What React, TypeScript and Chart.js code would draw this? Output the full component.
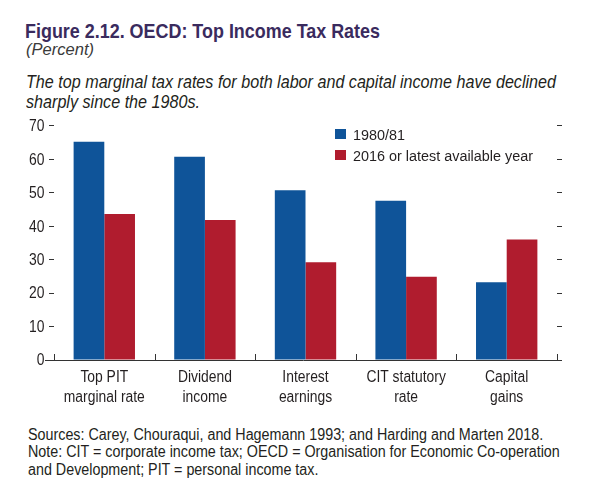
import React, { useEffect, useRef } from "react";
import { Chart, registerables } from "chart.js";

Chart.register(...registerables);

const categories: string[][] = [
  ["Top PIT", "marginal rate"],
  ["Dividend", "income"],
  ["Interest", "earnings"],
  ["CIT statutory", "rate"],
  ["Capital", "gains"],
];
const series1980Label = "1980/81";
const series2016Label = "2016 or latest available year";
const values1980: number[] = [65.2, 60.7, 50.7, 47.6, 23.2];
const values2016: number[] = [43.6, 41.8, 29.2, 24.9, 36.0];
const yTicks: number[] = [0, 10, 20, 30, 40, 50, 60, 70];

const titleText = "Figure 2.12. OECD: Top Income Tax Rates";
const unitText = "(Percent)";
const descLines: string[] = [
  "The top marginal tax rates for both labor and capital income have declined",
  "sharply since the 1980s.",
];
const noteLines: string[] = [
  "Sources: Carey, Chouraqui, and Hagemann 1993; and Harding and Marten 2018.",
  "Note: CIT = corporate income tax; OECD = Organisation for Economic Co-operation",
  "and Development; PIT = personal income tax.",
];

const FAM = "'Liberation Sans', Arial, sans-serif";
const BLUE = "#0f5499";
const RED = "#b01c2e";
const INK = "#231f20";
const TITLE_INK = "#3a2b5e";

let measureCtx: CanvasRenderingContext2D | null = null;
function measure(text: string, font: string): number {
  if (!measureCtx) measureCtx = document.createElement("canvas").getContext("2d");
  measureCtx!.font = font;
  return measureCtx!.measureText(text).width;
}
function fitScale(text: string, font: string, target: number): number {
  return target / measure(text, font);
}

function drawScaled(ctx: CanvasRenderingContext2D, text: string, x: number, y: number, sx: number, align: CanvasTextAlign) {
  ctx.save();
  ctx.translate(x, y);
  ctx.scale(sx, 1);
  ctx.textAlign = align;
  ctx.fillText(text, 0, 0);
  ctx.restore();
}

const CAT_FONT = `16px ${FAM}`;
const LEG_FONT = `15.5px ${FAM}`;

const extrasPlugin = {
  id: "extras",
  afterDraw(chart: any) {
    const ctx: CanvasRenderingContext2D = chart.ctx;
    const xs = chart.scales.x;
    const ys = chart.scales.y;
    const area = chart.chartArea;
    const catScale = fitScale("marginal rate", CAT_FONT, 81);
    ctx.save();
    ctx.strokeStyle = "#333";
    ctx.lineWidth = 1;
    const by = Math.round(area.bottom) + 0.5;
    // axis line
    ctx.beginPath();
    ctx.moveTo(area.left - 9, by);
    ctx.lineTo(area.right + 5, by);
    ctx.stroke();
    // category boundary ticks
    const n = chart.data.labels.length;
    for (let i = 0; i <= n; i++) {
      const x = Math.round(xs.getPixelForValue(i - 0.5)) + 0.5;
      ctx.beginPath();
      ctx.moveTo(x, area.bottom);
      ctx.lineTo(x, area.bottom - 6);
      ctx.stroke();
    }
    // category labels
    ctx.fillStyle = INK;
    ctx.font = CAT_FONT;
    ctx.textBaseline = "alphabetic";
    chart.data.labels.forEach((lab: string[], i: number) => {
      const x = xs.getPixelForValue(i);
      lab.forEach((line, j) => {
        drawScaled(ctx, line, x, area.bottom + 21.5 + j * 20, catScale, "center");
      });
    });
    // y tick labels
    ctx.textBaseline = "middle";
    ys.ticks.forEach((t: any) => {
      const y = ys.getPixelForValue(t.value);
      drawScaled(ctx, String(t.value), area.left - 9.5, y + 1, catScale, "right");
    });
    // legend
    const legScale = fitScale(series2016Label, LEG_FONT, 180);
    const lx = 335;
    const topOffset = chart.canvas.offsetTop || 110;
    ctx.font = LEG_FONT;
    ctx.textBaseline = "alphabetic";
    chart.data.datasets.forEach((ds: any, i: number) => {
      const y0 = 129 + i * 21 - topOffset;
      ctx.fillStyle = ds.backgroundColor;
      ctx.fillRect(lx, y0, 11, 10);
      ctx.fillStyle = INK;
      drawScaled(ctx, ds.label, lx + 18, y0 + 11, legScale, "left");
    });
    ctx.restore();
  },
};

function ChartView() {
  const ref = useRef<HTMLCanvasElement>(null);
  useEffect(() => {
    if (!ref.current) return;
    const chart = new Chart(ref.current, {
      type: "bar",
      data: {
        labels: categories,
        datasets: [
          { label: series1980Label, data: values1980, backgroundColor: BLUE, borderWidth: 0 },
          { label: series2016Label, data: values2016, backgroundColor: RED, borderWidth: 0 },
        ],
      },
      options: {
        animation: false,
        responsive: false,
        maintainAspectRatio: false,
        devicePixelRatio: 1,
        layout: { padding: { top: 15.7, left: 0, right: 0, bottom: 0 } },
        datasets: { bar: { categoryPercentage: 0.61, barPercentage: 1.0 } },
        plugins: { legend: { display: false }, tooltip: { enabled: false } },
        scales: {
          x: {
            type: "category",
            grid: { display: false },
            border: { display: false },
            ticks: { color: "rgba(0,0,0,0)", font: { family: FAM, size: 15 }, maxRotation: 0, autoSkip: false },
            afterFit: (s: any) => { s.height = 50; },
          },
          y: {
            position: "left",
            min: 0,
            max: 70,
            afterBuildTicks: (s: any) => { s.ticks = yTicks.map((v) => ({ value: v })); },
            grid: { drawOnChartArea: false, tickLength: 5, color: "#333", tickColor: "#333" },
            border: { display: false },
            ticks: { color: "rgba(0,0,0,0)", font: { family: FAM, size: 15 }, padding: 2 },
            afterFit: (s: any) => { s.width = 54; },
          },
          y2: {
            position: "right",
            min: 0,
            max: 70,
            afterBuildTicks: (s: any) => { s.ticks = yTicks.map((v) => ({ value: v })); },
            grid: { drawOnChartArea: false, tickLength: 5, color: "#333", tickColor: "#333" },
            border: { display: false },
            ticks: { color: "rgba(0,0,0,0)", font: { family: FAM, size: 15 } },
            afterFit: (s: any) => { s.width = 43; },
          },
        },
      },
      plugins: [extrasPlugin],
    } as any);
    return () => chart.destroy();
  }, []);
  return (
    <canvas
      ref={ref}
      width={600}
      height={300}
      style={{ position: "absolute", left: 0, top: 110, width: 600, height: 300 }}
    />
  );
}

// A single line of text placed by its baseline, horizontally condensed to a target width
function TextLine(props: { text: string; left: number; baseline: number; size: number; weight?: string; italic?: boolean; color?: string; scale: number }) {
  const { text, left, baseline, size, weight, italic, color, scale } = props;
  return (
    <div
      style={{
        position: "absolute",
        left,
        top: baseline - size * 0.8465,
        fontFamily: FAM,
        fontSize: size,
        lineHeight: 1,
        fontWeight: weight || "normal",
        fontStyle: italic ? "italic" : "normal",
        color: color || INK,
        whiteSpace: "nowrap",
        transform: `scaleX(${scale})`,
        transformOrigin: "left top",
      }}
    >
      {text}
    </div>
  );
}

export default function App() {
  const titleScale = fitScale(titleText, `bold 21px ${FAM}`, 355);
  const unitScale = fitScale(unitText, `italic 16.5px ${FAM}`, 68);
  const descScale = fitScale(descLines[0], `italic 18px ${FAM}`, 530);
  const noteScale = fitScale(noteLines[1], `16px ${FAM}`, 532);
  return (
    <div
      style={{
        position: "absolute",
        left: 0,
        top: 0,
        width: 600,
        height: 501,
        background: "#fff",
        overflow: "hidden",
      }}
    >
      <TextLine text={titleText} left={25} baseline={37.5} size={21} weight="bold" color={TITLE_INK} scale={titleScale} />
      <TextLine text={unitText} left={26} baseline={54.5} size={16.5} italic color="#3a3a3a" scale={unitScale} />
      {descLines.map((t, i) => (
        <TextLine key={i} text={t} left={26} baseline={88 + i * 20} size={18} italic scale={descScale} />
      ))}
      <ChartView />
      {noteLines.map((t, i) => (
        <TextLine key={i} text={t} left={28} baseline={440.5 + i * 17.5} size={16} scale={noteScale} />
      ))}
    </div>
  );
}
